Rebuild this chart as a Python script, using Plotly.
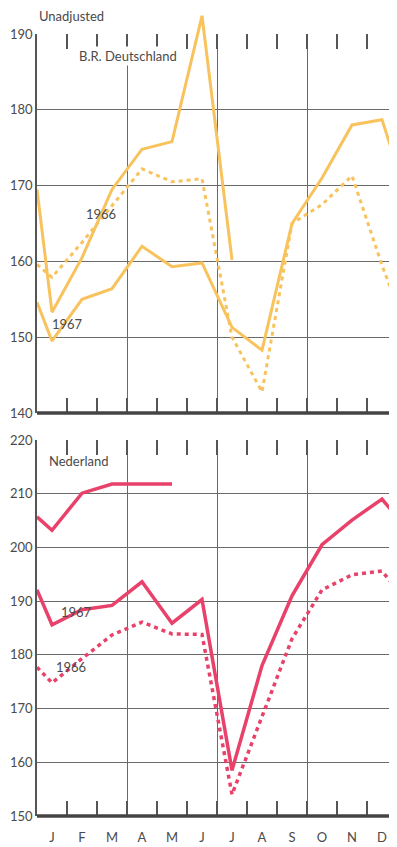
import plotly.graph_objects as go

# ---------------- data ----------------
months = ["J", "F", "M", "A", "M", "J", "J", "A", "S", "O", "N", "D"]
# x positions in month units: 0 = start of January, points at mid-month, plus edges
x_full = [0, 0.5, 1.5, 2.5, 3.5, 4.5, 5.5, 6.5, 7.5, 8.5, 9.5, 10.5, 11.5, 12]

de_1968 = [169.5, 153.3, 160.5, 169.5, 174.8, 175.8, 192.4, 160.2]
de_1967 = [154.6, 149.5, 155.0, 156.4, 162.0, 159.3, 159.8, 151.3, 148.3, 165.0, 171.0, 178.0, 178.7, 172.5]
de_1966 = [159.6, 157.9, 162.5, 167.3, 172.2, 170.5, 170.9, 150.0, 142.8, 165.0, 167.5, 171.3, 159.5, 154.2]

nl_1968 = [205.7, 203.2, 210.1, 211.8, 211.8, 211.8]
nl_1967 = [192.1, 185.6, 188.4, 189.2, 193.6, 185.9, 190.3, 158.5, 178.0, 191.0, 200.5, 205.1, 209.0, 205.7]
nl_1966 = [177.7, 174.8, 179.3, 183.7, 186.1, 183.9, 183.8, 154.0, 168.5, 183.0, 192.1, 194.9, 195.6, 192.2]

de_ticks = [140, 150, 160, 170, 180, 190]
nl_ticks = [150, 160, 170, 180, 190, 200, 210, 220]
quarters = [3, 6, 9]
boundaries = list(range(1, 12))

# ---------------- style ----------------
DE_COL = "#F8C25C"
NL_COL = "#E8416A"
GRID = "#6a6a6a"
AX = "#555"
TXT = "#4a4a4a"
FONT = "Lato"
DOTS = "4px,4px"

DE_RANGE = [140, 190]
DE_HEADROOM = 192.8        # the June peak pokes above the frame
NL_RANGE = [150, 220]

# page body has an 8px default margin -> figure sized to end at window edge
W, H = 389, 839
T, B = 4, 31
plot_h = H - T - B
de_bottom_px, de_top_px = 413, 34
nl_bottom_px, nl_top_px = 816, 440
px_per_unit = (de_bottom_px - de_top_px) / (DE_RANGE[1] - DE_RANGE[0])
head_top_px = de_bottom_px - (DE_HEADROOM - DE_RANGE[0]) * px_per_unit

def frac(px):
    return (nl_bottom_px - px) / plot_h

fig = go.Figure()

def line(x, y, col, dash, xa, ya, w=3):
    fig.add_trace(go.Scatter(x=x, y=y, mode="lines", xaxis=xa, yaxis=ya,
                             line=dict(color=col, width=w, dash=dash),
                             hoverinfo="skip", showlegend=False))

# German series on a hidden, taller copy of the top scale (same px/unit)
line(x_full, de_1966, DE_COL, DOTS, "x5", "y5")
line(x_full, de_1967, DE_COL, "solid", "x5", "y5")
line(x_full[:len(de_1968)], de_1968, DE_COL, "solid", "x5", "y5")

line(x_full, nl_1966, NL_COL, DOTS, "x2", "y2", 3.5)
line(x_full, nl_1967, NL_COL, "solid", "x2", "y2", 3.5)
line(x_full[:len(nl_1968)], nl_1968, NL_COL, "solid", "x2", "y2", 3.5)

# empty traces so the visible frame axes get drawn
for xa, ya in (("x", "y"), ("x3", "y2")):
    fig.add_trace(go.Scatter(x=[], y=[], xaxis=xa, yaxis=ya, mode="lines",
                             hoverinfo="skip", showlegend=False))

quarter_grid = dict(tickmode="array", tickvals=quarters, showgrid=True,
                    gridcolor=GRID, gridwidth=1, ticks="")
tick_common = dict(tickmode="array", tickvals=boundaries, ticks="inside",
                   ticklen=15, tickwidth=1.5, tickcolor=AX,
                   showticklabels=False, showgrid=False, zeroline=False,
                   showline=False, mirror="ticks", range=[0, 12],
                   domain=[0, 1], minor=quarter_grid, fixedrange=True)

yfont = dict(family=FONT, size=13, color=TXT)

def ycfg(anchor, rng, vals, dom):
    return dict(anchor=anchor, range=rng, domain=dom, tickmode="array",
                tickvals=vals, ticks="", showgrid=True, gridcolor=GRID,
                gridwidth=1, zeroline=False, showline=True, linecolor=AX,
                linewidth=1.5, tickfont=yfont, fixedrange=True)

fig.update_layout(
    width=W, height=H,
    margin=dict(l=29, r=0, t=T, b=B, autoexpand=False),
    paper_bgcolor="white", plot_bgcolor="rgba(0,0,0,0)",
    xaxis=dict(anchor="y", **tick_common),
    yaxis=ycfg("x", DE_RANGE, de_ticks, [frac(de_bottom_px), frac(de_top_px)]),
    xaxis2=dict(anchor="y2", **tick_common),
    yaxis2=ycfg("x2", NL_RANGE, nl_ticks, [0, frac(nl_top_px)]),
    xaxis3=dict(overlaying="x2", anchor="y2", side="bottom", range=[0, 12],
                tickmode="array", tickvals=[i + 0.5 for i in range(12)],
                ticktext=months, ticks="", showgrid=False, zeroline=False,
                showline=False, ticklabelstandoff=12,
                tickfont=dict(family=FONT, size=13, color=TXT),
                fixedrange=True),
    xaxis5=dict(anchor="y5", domain=[0, 1], range=[0, 12], visible=False,
                fixedrange=True),
    yaxis5=dict(anchor="x5", range=[DE_RANGE[0], DE_HEADROOM],
                domain=[frac(de_bottom_px), min(1, frac(head_top_px))],
                visible=False, fixedrange=True),
)

# thick baselines
for xr, yr in (("x domain", "y domain"), ("x2 domain", "y2 domain")):
    fig.add_shape(type="line", xref=xr, yref=yr, x0=0, x1=1, y0=0, y1=0,
                  line=dict(color="#444", width=3.5))

ann_font = dict(family=FONT, size=13, color=TXT)
fig.add_annotation(text="Unadjusted", xref="paper", yref="paper", x=0,
                   y=frac(16), xanchor="left", yanchor="middle",
                   showarrow=False, font=ann_font)
fig.add_annotation(text="B.R. Deutschland", xref="x", yref="y", x=3.03, y=187.1,
                   showarrow=False, font=ann_font, bgcolor="white", borderpad=1)
fig.add_annotation(text="Nederland", xref="x2", yref="y2", x=1.4, y=216.1,
                   showarrow=False, font=ann_font)
fig.add_annotation(text="1966", xref="x", yref="y", x=2.13, y=166.3,
                   showarrow=False, font=ann_font)
fig.add_annotation(text="1967", xref="x", yref="y", x=1.0, y=151.8,
                   showarrow=False, font=ann_font)
fig.add_annotation(text="1967", xref="x2", yref="y2", x=1.33, y=188.0,
                   showarrow=False, font=ann_font)
fig.add_annotation(text="1966", xref="x2", yref="y2", x=1.13, y=177.7,
                   showarrow=False, font=ann_font)

fig.write_html("out.html")
